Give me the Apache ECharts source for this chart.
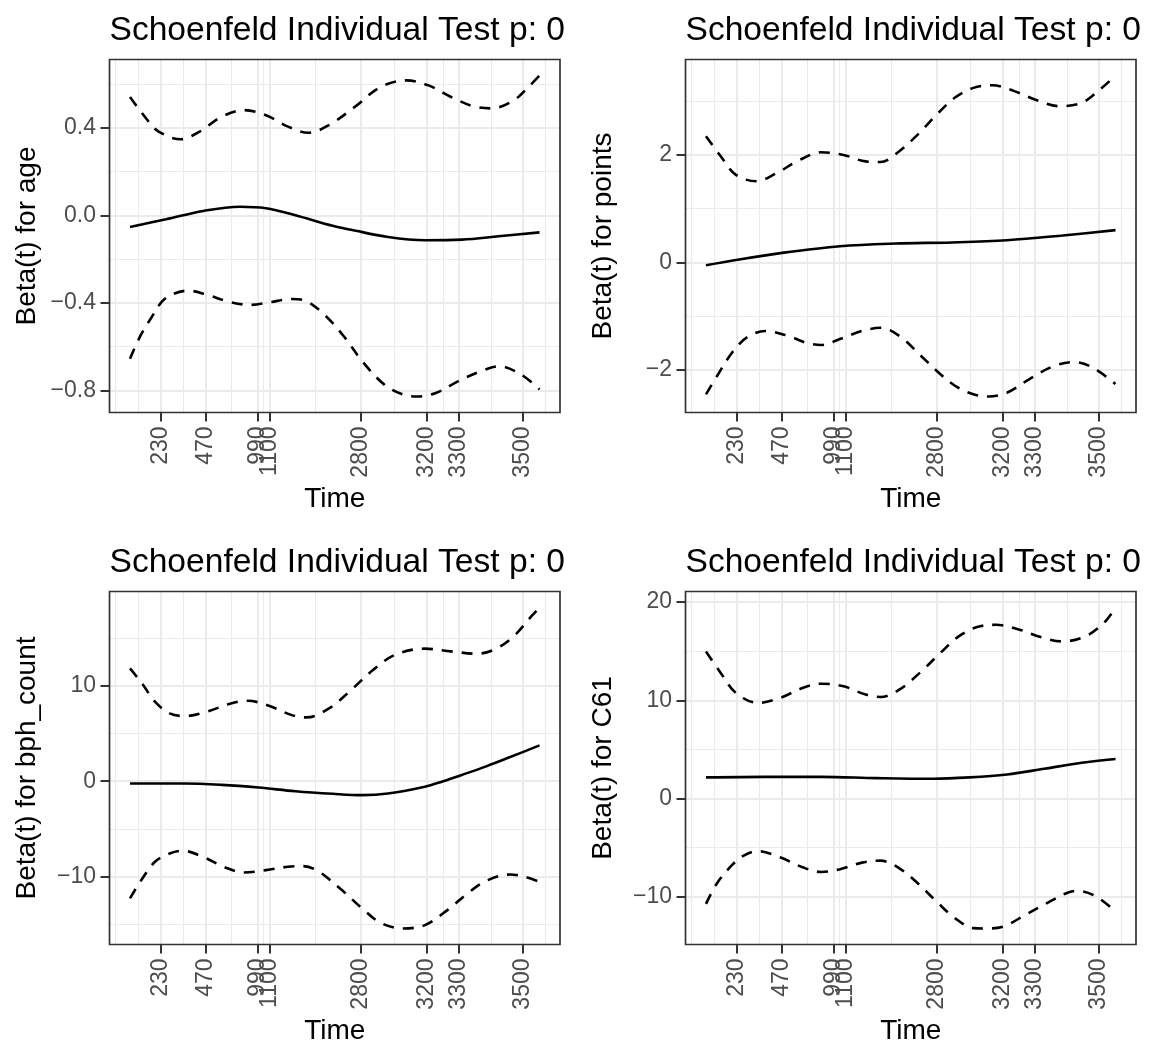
<!DOCTYPE html>
<html>
<head>
<meta charset="utf-8">
<script src="https://cdn.jsdelivr.net/npm/echarts@6/dist/echarts.min.js"></script>
<style>
  html, body { margin: 0; padding: 0; background: #ffffff; }
  #chart { width: 1162px; height: 1048px; }
</style>
</head>
<body>
<div id="chart"></div>
<script>
// Time axis: tick labels and their positions on the transformed time scale (0..1)
const timeTickLabels = ['230', '470', '990', '1100', '2800', '3200', '3300', '3500'];
const timeTickPos = [0.0746, 0.1849, 0.3112, 0.3411, 0.5638, 0.7248, 0.8035, 0.9598];

// age: smoothed beta(t) and its confidence band, as [transformed time, value]
const ageBeta = [[0, -0.053], [0.088, -0.018], [0.179, 0.020], [0.269, 0.039], [0.332, 0.032], [0.404, 0.0],
  [0.495, -0.048], [0.54, -0.066], [0.63, -0.099], [0.72, -0.114], [0.81, -0.111], [0.90, -0.096], [1.0, -0.078]];
const ageUpper = [[0, 0.540], [0.043, 0.434], [0.070, 0.382], [0.124, 0.347], [0.17, 0.382], [0.224, 0.45],
  [0.278, 0.48], [0.332, 0.457], [0.386, 0.405], [0.436, 0.377], [0.486, 0.412], [0.549, 0.495], [0.612, 0.586],
  [0.675, 0.616], [0.729, 0.593], [0.784, 0.540], [0.838, 0.498], [0.883, 0.488], [0.937, 0.525], [0.973, 0.586],
  [1.0, 0.638]];
const ageLower = [[0, -0.655], [0.025, -0.552], [0.052, -0.468], [0.079, -0.392], [0.106, -0.359], [0.142, -0.344],
  [0.187, -0.362], [0.242, -0.395], [0.296, -0.409], [0.341, -0.397], [0.395, -0.382], [0.431, -0.392],
  [0.477, -0.458], [0.522, -0.552], [0.567, -0.666], [0.621, -0.773], [0.666, -0.818], [0.702, -0.827],
  [0.747, -0.811], [0.802, -0.757], [0.856, -0.712], [0.901, -0.689], [0.955, -0.727], [1.0, -0.795]];
const ageTicks = [-0.8, -0.4, 0, 0.4];

// points
const pointsBeta = [[0, -0.056], [0.073, 0.043], [0.19, 0.18], [0.327, 0.30], [0.463, 0.35], [0.6, 0.37],
  [0.735, 0.41], [0.871, 0.50], [1.0, 0.60]];
const pointsUpper = [[0, 2.35], [0.036, 1.975], [0.073, 1.63], [0.123, 1.51], [0.172, 1.66], [0.227, 1.90],
  [0.281, 2.05], [0.336, 2.0], [0.39, 1.88], [0.426, 1.87], [0.472, 2.07], [0.517, 2.38], [0.563, 2.75],
  [0.608, 3.07], [0.653, 3.25], [0.699, 3.30], [0.753, 3.19], [0.808, 3.02], [0.862, 2.91], [0.917, 2.97],
  [0.962, 3.22], [1.0, 3.48]];
const pointsLower = [[0, -2.46], [0.027, -2.12], [0.064, -1.68], [0.1, -1.40], [0.145, -1.28], [0.2, -1.37],
  [0.245, -1.50], [0.281, -1.54], [0.327, -1.43], [0.381, -1.28], [0.426, -1.22], [0.472, -1.37], [0.526, -1.75],
  [0.563, -2.02], [0.608, -2.30], [0.653, -2.46], [0.69, -2.50], [0.735, -2.43], [0.789, -2.18], [0.844, -1.95],
  [0.898, -1.86], [0.944, -1.96], [1.0, -2.27]];
const pointsTicks = [-2, 0, 2];

// bph_count
const bphBeta = [[0, -0.24], [0.133, -0.24], [0.224, -0.38], [0.314, -0.66], [0.404, -1.05], [0.495, -1.32],
  [0.567, -1.46], [0.63, -1.29], [0.72, -0.59], [0.765, 0.0], [0.81, 0.65], [0.87, 1.55], [0.93, 2.55], [1.0, 3.75]];
const bphUpper = [[0, 11.8], [0.029, 10.25], [0.061, 8.32], [0.097, 7.09], [0.133, 6.81], [0.187, 7.26],
  [0.242, 8.07], [0.287, 8.42], [0.341, 7.86], [0.395, 6.91], [0.431, 6.67], [0.486, 7.61], [0.54, 9.54],
  [0.594, 11.65], [0.648, 13.23], [0.72, 13.86], [0.784, 13.58], [0.847, 13.33], [0.892, 13.82], [0.937, 15.16],
  [0.982, 17.33], [1.0, 18.16]];
const bphLower = [[0, -12.26], [0.025, -10.52], [0.061, -8.43], [0.097, -7.56], [0.129, -7.28], [0.178, -7.91],
  [0.233, -9.02], [0.278, -9.55], [0.332, -9.30], [0.386, -8.95], [0.422, -8.88], [0.458, -9.37], [0.513, -11.22],
  [0.567, -13.31], [0.612, -14.81], [0.666, -15.40], [0.72, -15.05], [0.775, -13.48], [0.829, -11.57],
  [0.874, -10.35], [0.928, -9.76], [0.964, -10.0], [1.0, -10.52]];
const bphTicks = [-10, 0, 10];

// C61
const c61Beta = [[0, 2.14], [0.145, 2.20], [0.281, 2.20], [0.417, 2.07], [0.554, 2.0], [0.644, 2.14],
  [0.735, 2.44], [0.826, 3.02], [0.917, 3.63], [1.0, 4.02]];
const c61Upper = [[0, 14.98], [0.036, 12.78], [0.073, 10.75], [0.127, 9.73], [0.181, 10.24], [0.236, 11.25],
  [0.281, 11.69], [0.336, 11.42], [0.39, 10.58], [0.426, 10.34], [0.472, 11.08], [0.526, 12.95], [0.572, 14.81],
  [0.617, 16.51], [0.662, 17.46], [0.708, 17.69], [0.762, 17.25], [0.817, 16.44], [0.871, 16.0], [0.926, 16.51],
  [0.971, 17.86], [1.0, 19.45]];
const c61Lower = [[0, -10.75], [0.027, -8.64], [0.064, -6.78], [0.091, -5.86], [0.127, -5.36], [0.181, -6.0],
  [0.236, -7.02], [0.281, -7.49], [0.327, -7.22], [0.381, -6.54], [0.426, -6.34], [0.472, -7.12], [0.517, -8.64],
  [0.563, -10.51], [0.608, -12.20], [0.653, -13.22], [0.681, -13.25], [0.726, -13.05], [0.78, -11.86],
  [0.835, -10.61], [0.88, -9.66], [0.907, -9.42], [0.953, -10.0], [1.0, -11.53]];
const c61Ticks = [-10, 0, 10, 20];

const panelTitle = 'Schoenfeld Individual Test p: 0';
const xTitle = 'Time';

const panels = [
  { yTitle: 'Beta(t) for age', beta: ageBeta, upper: ageUpper, lower: ageLower, ticks: ageTicks, digits: 1 },
  { yTitle: 'Beta(t) for points', beta: pointsBeta, upper: pointsUpper, lower: pointsLower, ticks: pointsTicks, digits: 0 },
  { yTitle: 'Beta(t) for bph_count', beta: bphBeta, upper: bphUpper, lower: bphLower, ticks: bphTicks, digits: 0 },
  { yTitle: 'Beta(t) for C61', beta: c61Beta, upper: c61Upper, lower: c61Lower, ticks: c61Ticks, digits: 0 }
];

// ---- layout & style ----
const FONT = '"Liberation Sans", Arial, Helvetica, sans-serif';
const cells = [
  { left: 109.5, top: 59.5 }, { left: 685.5, top: 59.5 },
  { left: 109.5, top: 591.5 }, { left: 685.5, top: 591.5 }
];
const cellW = 450.5, cellH = 353;
const GRID = '#EBEBEB', INK = '#333333', TICKTXT = '#4D4D4D';

// 5% padding on both ends of the data range
function padded(vals) {
  const lo = Math.min(...vals), hi = Math.max(...vals), d = (hi - lo) * 0.05;
  return [lo - d, hi + d];
}
// minor gridlines halfway between breaks, extending one step past the ends
function minorBreaks(major, lo, hi) {
  const b = major.slice();
  const bd = b[1] - b[0];
  if (lo < b[0]) b.unshift(b[0] - bd);
  if (hi > b[b.length - 1]) b.push(b[b.length - 1] + bd);
  const out = [];
  for (let i = 0; i < b.length - 1; i++) out.push(b[i], (b[i] + b[i + 1]) / 2);
  out.push(b[b.length - 1]);
  return out.filter(v => v >= lo && v <= hi && !major.some(m => Math.abs(m - v) < 1e-9));
}
const fmtNum = (v, d) => {
  const s = Math.abs(v).toFixed(d);
  return (v < -1e-12 ? '\u2212' : '') + s;
};

const option = {
  backgroundColor: '#ffffff',
  animation: false,
  title: [], grid: [], xAxis: [], yAxis: [], series: []
};

panels.forEach((p, i) => {
  const c = cells[i];
  const allX = [...p.beta, ...p.upper, ...p.lower].map(d => d[0]);
  const allY = [...p.beta, ...p.upper, ...p.lower].map(d => d[1]);
  const [xLo, xHi] = padded(allX);
  const [yLo, yHi] = padded(allY);
  const xMinor = minorBreaks(timeTickPos, xLo, xHi);
  const yMinor = minorBreaks(p.ticks, yLo, yHi);

  option.title.push({
    text: panelTitle, left: c.left, top: c.top - 46, padding: 0,
    textStyle: { fontFamily: FONT, fontSize: 33.6, fontWeight: 'normal', color: '#000000' }
  });
  option.grid.push({
    left: c.left, top: c.top, width: cellW, height: cellH,
    show: true, z: 5, backgroundColor: 'transparent',
    borderColor: INK, borderWidth: 1.7,
    containLabel: false, outerBoundsMode: 'none'
  });

  // minor grid axes (no labels)
  option.xAxis.push({
    type: 'value', gridIndex: i, min: xLo, max: xHi, position: 'bottom',
    axisLine: { show: false, onZero: false }, axisLabel: { show: false },
    axisTick: { show: false, customValues: xMinor },
    splitLine: { show: true, lineStyle: { color: GRID, width: 1.1 } }
  });
  option.yAxis.push({
    type: 'value', gridIndex: i, min: yLo, max: yHi, position: 'left',
    axisLine: { show: false, onZero: false }, axisLabel: { show: false },
    axisTick: { show: false, customValues: yMinor },
    splitLine: { show: true, lineStyle: { color: GRID, width: 1.1 } }
  });
  // major axes
  option.xAxis.push({
    type: 'value', gridIndex: i, min: xLo, max: xHi, position: 'bottom',
    name: xTitle, nameLocation: 'middle', nameGap: 73, nameMoveOverlap: false,
    nameTextStyle: { fontFamily: FONT, fontSize: 28, color: '#000000' },
    axisLine: { show: false, onZero: false },
    axisTick: { show: true, length: 9, lineStyle: { color: INK, width: 2 }, customValues: timeTickPos },
    axisLabel: {
      customValues: timeTickPos, rotate: 90, margin: 14, hideOverlap: false,
      fontFamily: FONT, fontSize: 23, color: TICKTXT,
      formatter: v => {
        let k = 0;
        timeTickPos.forEach((t, j) => { if (Math.abs(t - v) < Math.abs(timeTickPos[k] - v)) k = j; });
        return timeTickLabels[k];
      }
    },
    splitLine: { show: true, lineStyle: { color: GRID, width: 2.1 } }
  });
  option.yAxis.push({
    type: 'value', gridIndex: i, min: yLo, max: yHi, position: 'left',
    name: p.yTitle, nameLocation: 'middle', nameRotate: 90, nameGap: 68, nameMoveOverlap: false,
    nameTextStyle: { fontFamily: FONT, fontSize: 28, color: '#000000' },
    axisLine: { show: false, onZero: false },
    axisTick: { show: true, length: 9, lineStyle: { color: INK, width: 2 }, customValues: p.ticks },
    axisLabel: {
      customValues: p.ticks, margin: 13.5, hideOverlap: false,
      fontFamily: FONT, fontSize: 23, color: TICKTXT,
      formatter: v => fmtNum(v, p.digits)
    },
    splitLine: { show: true, lineStyle: { color: GRID, width: 2.1 } }
  });

  const xi = i * 2 + 1, yi = i * 2 + 1;
  const line = (data, dashed) => ({
    type: 'line', xAxisIndex: xi, yAxisIndex: yi, data,
    showSymbol: false, symbol: 'none', smooth: 0.35, silent: true, z: 3,
    lineStyle: { color: '#000000', width: 2.6, type: dashed ? [11, 9] : 'solid', cap: 'butt' }
  });
  option.series.push(line(p.upper, true), line(p.lower, true), line(p.beta, false));
});

const chart = echarts.init(document.getElementById('chart'), null, { renderer: 'canvas' });
chart.setOption(option);
</script>
</body>
</html>
